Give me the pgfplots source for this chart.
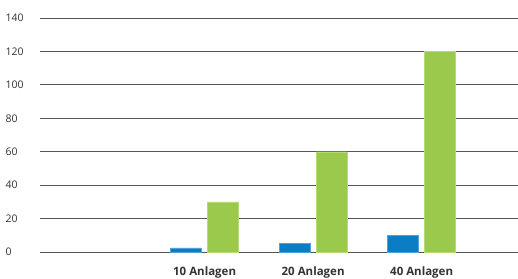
\documentclass[border=0pt]{standalone}
\usepackage{fontspec}
\setmainfont{Open Sans}
\usepackage{pgfplots}
\pgfplotsset{compat=1.18}
\definecolor{barblue}{HTML}{0A7DC6}
\definecolor{bluedge}{HTML}{4FA3DA}
\definecolor{bargreen}{HTML}{9BC94B}
\definecolor{greenedge}{HTML}{B5DB78}
\definecolor{gridgray}{HTML}{555555}
\definecolor{labgray}{HTML}{333333}
\begin{document}
\begin{tikzpicture}[x=1pt,y=1pt]
\begin{axis}[
  at={(40pt,26pt)}, anchor=south west,
  scale only axis, width=478pt, height=234pt,
  ymin=0, ymax=140, ytick={0,20,...,140},
  xmin=-0.517, xmax=3.888,
  xtick={1,2,3}, xticklabels={10 Anlagen,20 Anlagen,40 Anlagen},
  ybar=6pt, bar width=31pt,
  axis line style={draw=none},
  major tick length=0pt,
  ymajorgrids, grid style={gridgray, line width=0.9pt},
  /pgf/number format/assume math mode=true,
  yticklabel style={anchor=west, xshift=-38pt, font=\fontsize{10.5}{11}\selectfont, text=labgray},
  xticklabel style={yshift=-11pt, font=\fontsize{11.5}{12}\selectfont\bfseries, text=labgray},
]
\addplot[fill=barblue, draw=bluedge, line width=0.4pt] coordinates {(1,2.5) (2,5) (3,10)};
\addplot[fill=bargreen, draw=greenedge, line width=0.4pt] coordinates {(1,30) (2,60) (3,120)};
\end{axis}
\pgfresetboundingbox
\path (0,0) rectangle (518,278);
\end{tikzpicture}
\end{document}
